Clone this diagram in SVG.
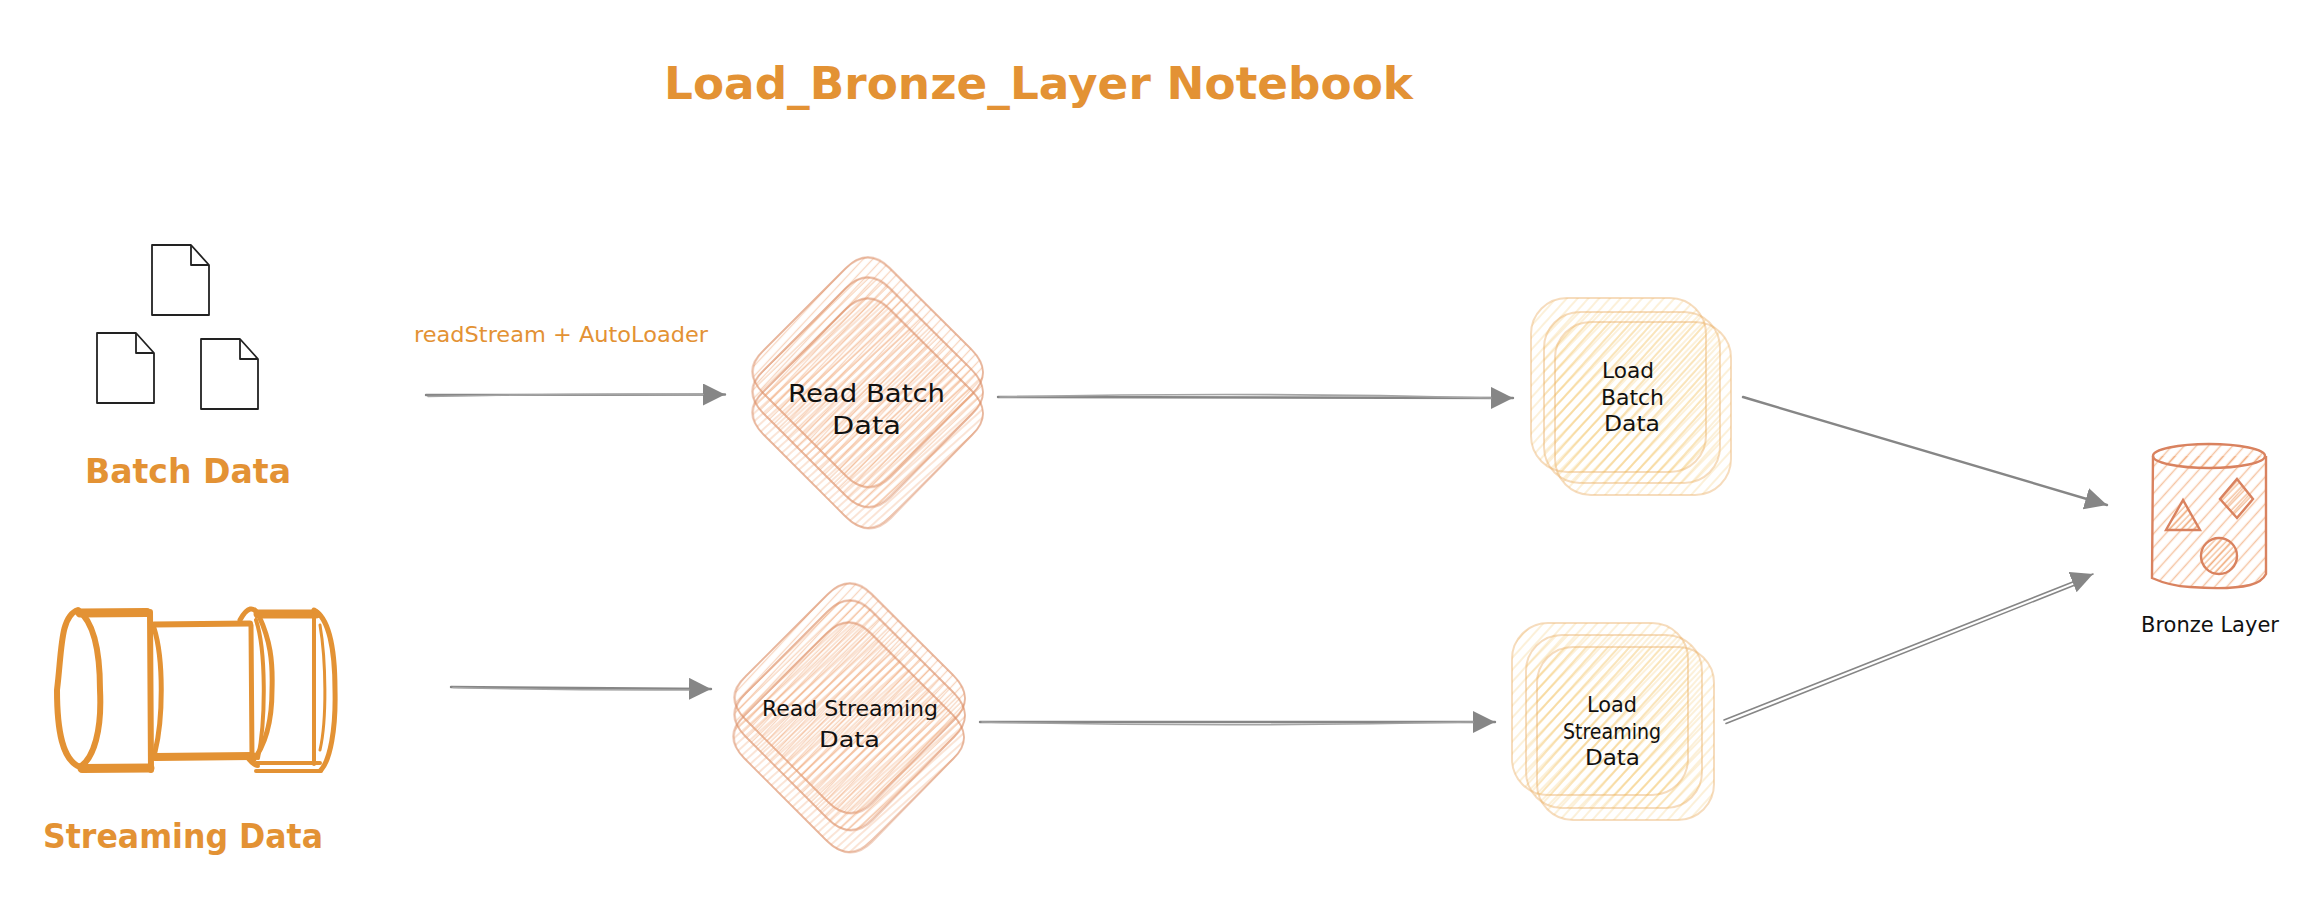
<svg xmlns="http://www.w3.org/2000/svg" width="2316" height="904" viewBox="0 0 2316 904">
<style>
text{font-family:"DejaVu Sans","Liberation Sans",sans-serif}
.or{fill:#e39234;font-weight:700}
.bk{fill:#111;font-size:24px}
.hd{stroke:#ee9d68;stroke-width:1.3;stroke-opacity:.42}
.hr{stroke:#f0b94c;stroke-width:1.4;stroke-opacity:.3}
.hb{stroke:#ee9e68;stroke-width:1.5;stroke-opacity:.6}
.dia{stroke:#dc8e66;stroke-opacity:.4;stroke-width:1.8}
.rec{stroke:#e9ab62;stroke-opacity:.42;stroke-width:2}
.bz{stroke:#d9825f;stroke-width:2.4}
.st{fill:none;stroke:#e39234;stroke-linecap:round;stroke-linejoin:round}
.doc{fill:#fff;stroke:#222;stroke-width:1.8;stroke-linejoin:round}
.arr{fill:none;stroke:#868686;stroke-width:2.4;stroke-linecap:round}
.gh{fill:none;stroke:#a4a4a4;stroke-width:1.6;stroke-linecap:round}
.thin{fill:none;stroke:#868686;stroke-width:1.6;stroke-linecap:round}
</style>
<defs>
<marker id="head" markerUnits="userSpaceOnUse" markerWidth="24" markerHeight="24" refX="22" refY="11" orient="auto"><path d="M0 0L22 11L0 22Z" fill="#868686"/></marker>
<pattern id="d1" width="7" height="7" patternUnits="userSpaceOnUse" patternTransform="rotate(43)"><line class="hd" x1="3.500" y1="0" x2="3.500" y2="7"/></pattern>
<pattern id="d2" width="6.500" height="6.500" patternUnits="userSpaceOnUse" patternTransform="rotate(46)"><line class="hd" x1="3" y1="0" x2="3" y2="6.500"/></pattern>
<pattern id="d3" width="6" height="6" patternUnits="userSpaceOnUse" patternTransform="rotate(48)"><line class="hd" x1="2" y1="0" x2="2" y2="6"/></pattern>
<pattern id="r1" width="8" height="8" patternUnits="userSpaceOnUse" patternTransform="rotate(42)"><line class="hr" x1="4" y1="0" x2="4" y2="8"/></pattern>
<pattern id="r2" width="8" height="8" patternUnits="userSpaceOnUse" patternTransform="rotate(44)"><line class="hr" x1="1" y1="0" x2="1" y2="8"/></pattern>
<pattern id="b1" width="9" height="9" patternUnits="userSpaceOnUse" patternTransform="rotate(42)"><line class="hb" x1="4.500" y1="0" x2="4.500" y2="9"/></pattern>
<pattern id="b2" width="4.500" height="4.500" patternUnits="userSpaceOnUse" patternTransform="rotate(44)"><line class="hb" x1="2" y1="0" x2="2" y2="4.500"/></pattern>
<path id="dshape" d="M-22 -104Q0 -126 22 -104L104 -22Q126 0 104 22L22 104Q0 126 -22 104L-104 22Q-126 0 -104 -22Z"/>
<path id="dshape2" d="M-23 -103Q-1 -125 21 -104L103 -23Q126 1 105 21L23 105Q1 127 -23 103L-105 21Q-127 -1 -105 -21Z"/>
<g id="docshape"><path d="M0 0H39L57 20V70H0Z"/><path d="M39 0V20H57" fill="none"/></g>
</defs>

<text id="title" class="or" x="664" y="99" font-size="44" textLength="749" lengthAdjust="spacingAndGlyphs">Load_Bronze_Layer Notebook</text>

<g id="batch-data">
<use href="#docshape" class="doc" x="152" y="245"/>
<use href="#docshape" class="doc" x="97" y="333"/>
<use href="#docshape" class="doc" x="201" y="339"/>
<text class="or" x="85" y="483" font-size="33" textLength="206" lengthAdjust="spacingAndGlyphs">Batch Data</text>
</g>

<text id="label-readstream" x="414" y="342" font-size="21" fill="#e39234" textLength="294" lengthAdjust="spacingAndGlyphs">readStream + AutoLoader</text>

<g id="streaming-data">
<g class="st">
<path stroke-width="6" d="M78 610C60 616 62 650 57 690C57 730 62 760 80 767C94 758 102 730 100 690C100 650 94 622 78 610Z"/>
<path stroke-width="9" d="M80 613L147 612.500M82 768.500L150 768"/>
<path stroke-width="6" d="M150 612L151 770"/>
<path stroke-width="5" d="M154 628C164 660 163 720 155 752"/>
<path stroke-width="6" d="M154 624.500L250 623.500"/>
<path stroke-width="8" d="M155 757L252 756"/>
<path stroke-width="5" d="M251 625L252 758"/>
<path stroke-width="5" d="M240 620Q251 600 259 616C270 640 273 660 272 690C272 720 266 745 252 762"/>
<path stroke-width="4" d="M256 620C266 650 266 720 258 758M246 756Q253 766 258 766"/>
<path stroke-width="9" d="M258 614L316 614"/>
<path stroke-width="4" d="M256 763L320 763M256 771L321 771"/>
<path stroke-width="4" d="M314 614L314 764"/>
<path stroke-width="5" d="M314 610C329 618 335 650 335 690C336 730 330 760 321 770"/>
<path stroke-width="3" d="M320 625C326 660 327 720 320 750"/>
</g>
<text class="or" x="43" y="848" font-size="33" textLength="280" lengthAdjust="spacingAndGlyphs">Streaming Data</text>
</g>

<g id="connectors">
<path class="arr" d="M426 395L725 394.500" marker-end="url(#head)"/>
<path class="gh" d="M428 396.500Q565 393.500 703 394.500"/>
<path class="arr" d="M451 687L711 689" marker-end="url(#head)"/>
<path class="gh" d="M453 687.500Q570 690.500 689 690"/>
<path class="arr" d="M998 397L1513 398" marker-end="url(#head)"/>
<path class="gh" d="M1000 397Q1245 391.500 1491 398"/>
<path class="arr" d="M980 722L1495 722" marker-end="url(#head)"/>
<path class="gh" d="M982 722Q1225 727.500 1473 722"/>
<path class="arr" d="M1743 397L2107 505" marker-end="url(#head)"/>
<path class="thin" d="M1724 720L2093 574" marker-end="url(#head)"/>
<path class="thin" d="M1726 723.500L2080 583"/>
</g>

<g id="read-batch">
<g transform="translate(868 372)"><use href="#dshape" fill="url(#d1)" class="dia"/><use href="#dshape2" fill="none" class="dia"/></g>
<g transform="translate(868 392)"><use href="#dshape" fill="url(#d2)" class="dia"/><use href="#dshape2" fill="none" class="dia"/></g>
<g transform="translate(868 413)"><use href="#dshape" fill="url(#d3)" class="dia"/><use href="#dshape2" fill="none" class="dia"/></g>
<text class="bk" x="788" y="402" textLength="157" lengthAdjust="spacingAndGlyphs">Read Batch</text>
<text class="bk" x="832" y="434" textLength="69" lengthAdjust="spacingAndGlyphs">Data</text>
</g>

<g id="read-streaming">
<g transform="translate(850 698)"><use href="#dshape" fill="url(#d1)" class="dia"/><use href="#dshape2" fill="none" class="dia"/></g>
<g transform="translate(850 715)"><use href="#dshape" fill="url(#d2)" class="dia"/><use href="#dshape2" fill="none" class="dia"/></g>
<g transform="translate(849 737)"><use href="#dshape" fill="url(#d3)" class="dia"/><use href="#dshape2" fill="none" class="dia"/></g>
<text class="bk" style="font-size:22px" x="762" y="716" textLength="176" lengthAdjust="spacingAndGlyphs">Read Streaming</text>
<text class="bk" style="font-size:22px" x="819" y="747" textLength="61" lengthAdjust="spacingAndGlyphs">Data</text>
</g>

<g id="load-batch">
<rect class="rec" x="1531" y="298" width="175" height="174" rx="36" fill="url(#r1)"/>
<rect class="rec" x="1544" y="312" width="176" height="171" rx="36" fill="url(#r2)"/>
<rect class="rec" x="1555" y="322" width="176" height="173" rx="36" fill="url(#r1)"/>
<text class="bk" style="font-size:21px" x="1602" y="378" textLength="52" lengthAdjust="spacingAndGlyphs">Load</text>
<text class="bk" style="font-size:21px" x="1601" y="405" textLength="63" lengthAdjust="spacingAndGlyphs">Batch</text>
<text class="bk" style="font-size:21px" x="1604" y="431" textLength="56" lengthAdjust="spacingAndGlyphs">Data</text>
</g>

<g id="load-streaming">
<rect class="rec" x="1512" y="623" width="176" height="172" rx="36" fill="url(#r1)"/>
<rect class="rec" x="1526" y="635" width="176" height="173" rx="36" fill="url(#r2)"/>
<rect class="rec" x="1537" y="647" width="177" height="173" rx="36" fill="url(#r1)"/>
<text class="bk" style="font-size:21px" x="1587" y="712" textLength="50" lengthAdjust="spacingAndGlyphs">Load</text>
<text class="bk" style="font-size:21px" x="1563" y="739" textLength="98" lengthAdjust="spacingAndGlyphs">Streaming</text>
<text class="bk" style="font-size:21px" x="1585" y="765" textLength="55" lengthAdjust="spacingAndGlyphs">Data</text>
</g>

<g id="bronze-layer">
<path class="bz" fill="url(#b1)" d="M2153 456L2152 578Q2170 586 2190 587Q2230 590 2250 585Q2262 582 2266 574L2266 456"/>
<ellipse class="bz" cx="2209" cy="456" rx="56" ry="12" fill="url(#b1)"/>
<path class="bz" fill="url(#b2)" d="M2183 500L2166 530L2200 530Z"/>
<path class="bz" fill="url(#b2)" d="M2237 479L2253 499L2237 518L2220 499Z"/>
<circle class="bz" cx="2219" cy="556" r="18" fill="url(#b2)"/>
<text class="bk" style="font-size:21px" x="2141" y="632" textLength="138" lengthAdjust="spacingAndGlyphs">Bronze Layer</text>
</g>
</svg>
